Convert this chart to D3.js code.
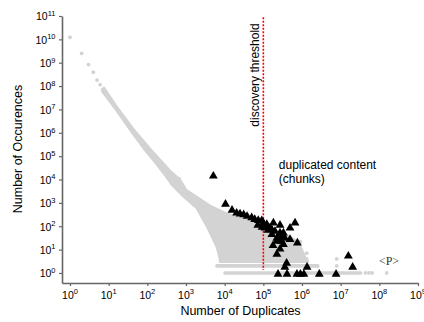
<!DOCTYPE html>
<html><head><meta charset="utf-8">
<script src="https://cdn.jsdelivr.net/npm/d3@7"></script>
<style>body{margin:0;background:#fff}svg{display:block}text{font-family:"Liberation Sans",Arial,Helvetica,sans-serif}</style>
</head><body><svg id="c" width="424" height="322"></svg>
<script>
// ---------- data ----------
const xTicks = [1e0,1e1,1e2,1e3,1e4,1e5,1e6,1e7,1e8,1e9];
const xTickExp = ["0","1","2","3","4","5","6","7","8","9"];
const yTicks = [1e0,1e1,1e2,1e3,1e4,1e5,1e6,1e7,1e8,1e9,1e10,1e11];
const yTickExp = ["0","1","2","3","4","5","6","7","8","9","10","11"];

// sparse gray points at small duplicate counts
const sparseDupes = [1,2,3,4,5,6,7,8];
const sparseOcc   = [1.23e10,2.5e9,8.3e8,3.9e8,1.8e8,1.15e8,7.1e7,5.0e7];

// envelope of the dense gray cloud: upper/right edge, then lower/left edge
const cloudUpper = [[7.57,8.3e7],[15.5,1.41e7],[43.9,1.38e6],[117,2.04e5],[212,6.9e4],[385,2.33e4],[700,9.6e3],[1000,3550],[1700,1990],[4170,741],[11500,339],[25100,224],[69200,151],[97700,85],[2.0e5,57.5],[4.37e5,38],[7.9e5,21.4],[1.0e6,9.5],[1.2e6,4.4],[1.41e6,3]];
const cloudLower = [[7590,3],[7590,4],[6310,12.9],[3470,102],[1910,603],[832,1995],[437,5890],[288,1.58e4],[158,5.6e4],[87,1.86e5],[38,1.2e6],[13.8,1.29e7],[6.8,6.2e7]];

// rows of single / double occurrences
const rowOcc   = [1, 2];
const rowStart = [1.02e4, 6.3e3];
const rowEnd   = [3.3e7, 2.57e6];

// scattered gray outliers
const grayDupes = [6.2e5,9.1e5,1.32e6,1.32e6,2.4e6,7.9e6,7.9e6,4.4e7,5.4e7,6.5e7,1.55e8,660,4700,1.15e4,2.6e4];
const grayOcc   = [22,22,7,4,2,4,2,1,1,1,1,1.1e4,300,190,130];

// duplicated content (chunks) - black triangles
const chunkDupes = [5.1e3,1.05e4,1.55e4,2.04e4,2.5e4,3.1e4,3.8e4,5.0e4,6.0e4,7.4e4,9.1e4,1.0e5,1.23e5,1.1e5,1.48e5,1.82e5,2.7e5,2.0e5,2.7e5,1.66e5,1.66e5,2.24e5,2.95e5,3.6e5,4.9e5,3.3e5,6.6e5,4.9e5,7.6e5,1.78e5,2.7e5,2.24e5,4.0e5,3.6e5,1.35e6,2.4e5,4.1e5,7.4e5,9.1e5,1.12e6,2.8e6,7.6e6,1.58e7,2.04e7,3.3e5,2.75e5,2.24e5,7.2e4,9.3e4,1.32e5];
const chunkOcc   = [1.6e4,1.0e3,550,417,380,355,302,263,224,200,195,158,135,95,95,158,126,69,59,81,50,35,26,35,31,19,158,95,22,17,12,7.2,3,2,2,1,1,1,1,1,1,1,6,2,59,43,26,126,102,76];

const thresholdX = 1e5;
const thresholdY = [8.9e10, 1.35];

// ---------- drawing ----------
const svg = d3.select("#c");
svg.append("rect").attr("width",424).attr("height",322).attr("fill","#fff");

const x = d3.scaleLog().domain([Math.pow(10,-0.207), 1e9]).range([62, 418]);
const y = d3.scaleLog().domain([Math.pow(10,-0.43), 1e11]).range([283, 16]);

const GRAY = "#d3d3d3";

// dense cloud
const cloud = cloudUpper.concat(cloudLower);
svg.append("path")
  .attr("d", d3.line().x(d=>x(d[0])).y(d=>y(d[1]))(cloud) + "Z")
  .attr("fill", GRAY).attr("stroke", GRAY).attr("stroke-width", 2.6).attr("stroke-linejoin","round");

// rows
svg.selectAll("line.row").data(rowOcc).enter().append("line")
  .attr("x1",(d,i)=>x(rowStart[i])).attr("x2",(d,i)=>x(rowEnd[i]))
  .attr("y1",d=>y(d)).attr("y2",d=>y(d))
  .attr("stroke",GRAY).attr("stroke-width",3.6).attr("stroke-linecap","round");

// sparse points
svg.selectAll("circle.sp").data(sparseDupes).enter().append("circle")
  .attr("cx",d=>x(d)).attr("cy",(d,i)=>y(sparseOcc[i])).attr("r",1.9).attr("fill",GRAY);
svg.selectAll("circle.go").data(grayDupes).enter().append("circle")
  .attr("cx",d=>x(d)).attr("cy",(d,i)=>y(grayOcc[i])).attr("r",1.9).attr("fill",GRAY);

// threshold
svg.append("line")
  .attr("x1",x(thresholdX)).attr("x2",x(thresholdX))
  .attr("y1",y(thresholdY[0])).attr("y2",y(thresholdY[1]))
  .attr("stroke","#ff0000").attr("stroke-width",1.6).attr("stroke-dasharray","2,1.5");

// triangles (centered on bounding box)
const tri = {draw(ctx,size){const s=Math.sqrt(size*4/Math.sqrt(3));const h=s*Math.sqrt(3)/2;
  ctx.moveTo(0,-h/2);ctx.lineTo(s/2,h/2);ctx.lineTo(-s/2,h/2);ctx.closePath();}};
svg.selectAll("path.tri").data(chunkDupes).enter().append("path")
  .attr("d", d3.symbol().type(tri).size(34))
  .attr("transform",(d,i)=>`translate(${x(d)},${y(chunkOcc[i])})`)
  .attr("fill","#000");

// axes
const AX = "#666";
const gx = svg.append("g").attr("transform","translate(0,283)")
  .call(d3.axisBottom(x).tickValues(xTicks).tickFormat("").tickSize(3).tickSizeOuter(0));
const gy = svg.append("g").attr("transform","translate(62,0)")
  .call(d3.axisLeft(y).tickValues(yTicks).tickFormat("").tickSize(3).tickSizeOuter(0));
[gx,gy].forEach(g=>{g.select(".domain").attr("stroke",AX).attr("stroke-width",1.6);
  g.selectAll(".tick line").attr("stroke",AX).attr("stroke-width",1.2);});

const xl = svg.append("g").selectAll("text").data(xTicks).enter().append("text")
  .attr("x",d=>x(d)).attr("y",298.5).attr("text-anchor","middle").attr("font-size",10.5).attr("fill","#000");
xl.append("tspan").text("10");
xl.append("tspan").attr("font-size",7.5).attr("dy",-4.5).text((d,i)=>xTickExp[i]);

const yl = svg.append("g").selectAll("text").data(yTicks).enter().append("text")
  .attr("x",55.5).attr("y",d=>y(d)+4.3).attr("text-anchor","end").attr("font-size",10.5).attr("fill","#000");
yl.append("tspan").text("10");
yl.append("tspan").attr("font-size",7.5).attr("dy",-4.5).text((d,i)=>yTickExp[i]);

// titles
svg.append("text").attr("x",240.5).attr("y",315).attr("text-anchor","middle").attr("font-size",12.5).text("Number of Duplicates");
svg.append("text").attr("transform","translate(22,149) rotate(-90)").attr("text-anchor","middle").attr("font-size",12.5).text("Number of Occurences");

// annotations
svg.append("text").attr("transform",`translate(${x(thresholdX)-4.5},${y(Math.pow(10,10.69))}) rotate(-90)`)
  .attr("text-anchor","end").attr("font-size",12).text("discovery threshold");
svg.append("text").attr("x",x(Math.pow(10,5.4))).attr("y",y(Math.pow(10,4.43))).attr("font-size",12).text("duplicated content");
svg.append("text").attr("x",x(Math.pow(10,5.4))).attr("y",y(Math.pow(10,3.85))).attr("font-size",12).text("(chunks)");
svg.append("text").attr("x",x(Math.pow(10,8.25))).attr("y",y(Math.pow(10,0.35))).attr("text-anchor","middle")
  .attr("font-size",12).attr("fill","#333").style("font-family","'Liberation Serif','DejaVu Serif',serif").text("<P>");
</script></body></html>
